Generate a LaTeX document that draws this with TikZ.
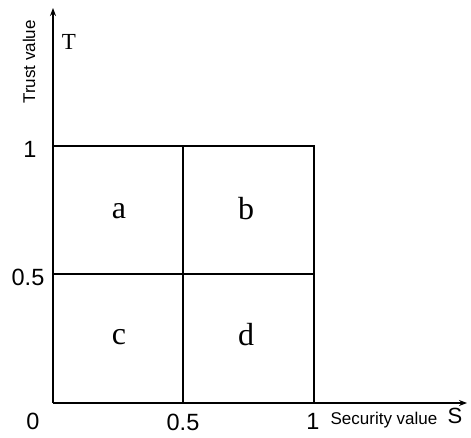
\documentclass[tikz,border=0pt]{standalone}
\usepackage{fontspec}
\setmainfont{Liberation Sans}
\newfontfamily\serifx{Liberation Serif}
\usetikzlibrary{arrows.meta}
\begin{document}
\begin{tikzpicture}[x=1pt,y=-1pt,
  ln/.style={line width=1.8pt,black},
  ax/.style={line width=1.8pt,black,-{Stealth[length=8pt,width=6pt]}},
  num/.style={font=\fontsize{23.5}{25}\selectfont,inner sep=0pt},
  lab/.style={font=\fontsize{17}{19}\selectfont,inner sep=0pt},
  let/.style={font=\serifx\fontsize{32}{34}\selectfont,inner sep=0pt}]
\useasboundingbox (0,0) rectangle (471,438);
\coordinate (o) at (53,403);
\coordinate (ytip) at (53,8);
\coordinate (xtip) at (467,403);
\coordinate (tl) at (53,146);
\coordinate (tr) at (314,146);
\coordinate (br) at (314,403);
\coordinate (ml) at (53,274);
\coordinate (mr) at (314,274);
\coordinate (mt) at (183,146);
\coordinate (mb) at (183,403);
\draw[ax] (o) -- (ytip);
\draw[ax] (o) -- (xtip);
\draw[ln] (tl) -- (tr) -- (br);
\draw[ln] (ml) -- (mr);
\draw[ln] (mt) -- (mb);
\node[lab,rotate=90] (ylab) at (29,62) {Trust value};
\node[font=\serifx\fontsize{23}{25}\selectfont,inner sep=0pt] (T) at (69,42) {T};
\node[num] (y1) at (30,149) {1};
\node[num] (y05) at (28,277) {0.5};
\node[num] (x0) at (33,421) {0};
\node[num] (x05) at (183,422) {0.5};
\node[num] (x1) at (313,421) {1};
\node[lab] (xlab) at (384,420) {Security value};
\node[font=\fontsize{22}{24}\selectfont,inner sep=0pt] (S) at (455,416) {S};
\node[let] (a) at (119,211) {a};
\node[let] (b) at (246,209) {b};
\node[let] (c) at (119,337) {c};
\node[let] (d) at (246,335) {d};
\end{tikzpicture}
\end{document}
